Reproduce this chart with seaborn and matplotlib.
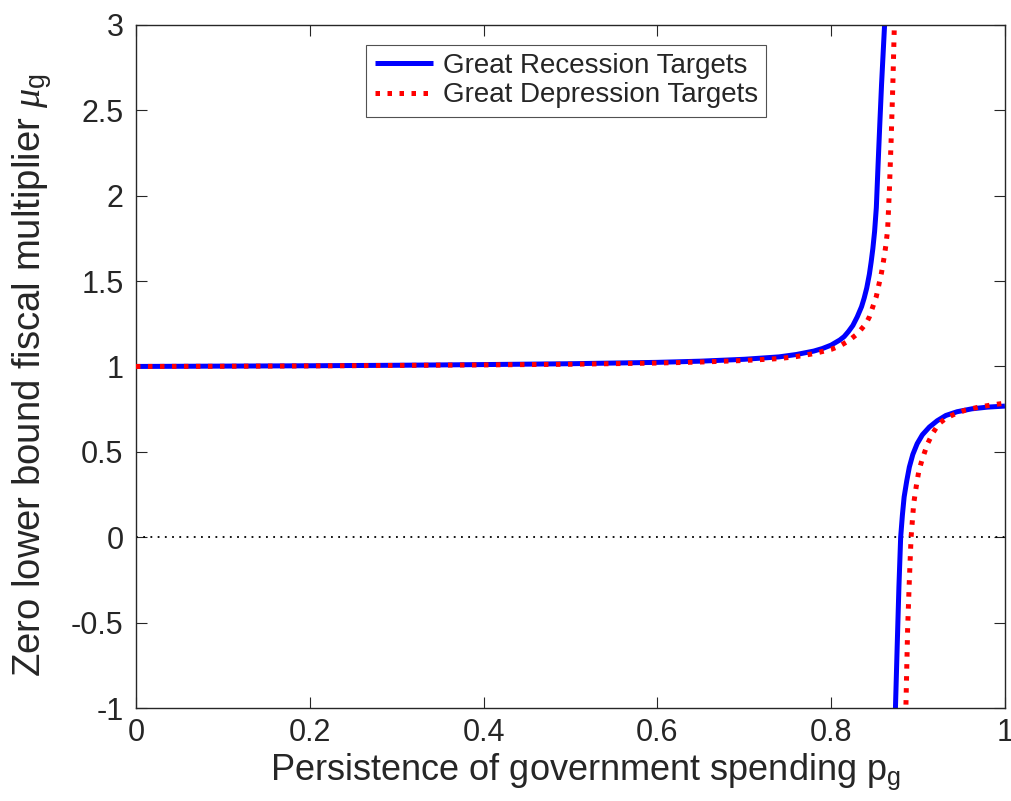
import matplotlib
matplotlib.use("Agg")
import matplotlib.pyplot as plt
import seaborn as sns
import pandas as pd

# Great Recession targets: branch left of the pole, branch right of it
rec_x_left = [0.00, 0.10, 0.20, 0.30, 0.40, 0.50, 0.60, 0.65, 0.70, 0.74, 0.76, 0.78,
              0.79, 0.80, 0.81, 0.815, 0.82, 0.825, 0.83, 0.835, 0.838, 0.841, 0.844,
              0.846, 0.848, 0.850, 0.852, 0.854, 0.856, 0.858, 0.860, 0.862]
rec_y_left = [1.000, 1.002, 1.004, 1.007, 1.011, 1.016, 1.024, 1.031, 1.042, 1.056, 1.070,
              1.090, 1.105, 1.125, 1.155, 1.175, 1.205, 1.24, 1.29, 1.35, 1.40, 1.46, 1.54,
              1.61, 1.69, 1.79, 1.93, 2.18, 2.42, 2.65, 2.85, 3.05]
rec_x_right = [0.8735, 0.874, 0.876, 0.878, 0.880, 0.882, 0.884, 0.887, 0.890, 0.894, 0.899,
               0.905, 0.913, 0.922, 0.932, 0.945, 0.962, 0.980, 1.000]
rec_y_right = [-1.05, -1.0, -0.64, -0.29, 0.0, 0.13, 0.236, 0.33, 0.411, 0.485, 0.548,
               0.60, 0.645, 0.682, 0.713, 0.735, 0.752, 0.762, 0.768]

# Great Depression targets
dep_x_left = [0.00, 0.10, 0.20, 0.30, 0.40, 0.50, 0.60, 0.65, 0.70, 0.74, 0.76, 0.78,
              0.80, 0.81, 0.82, 0.83, 0.835, 0.84, 0.844, 0.848, 0.852, 0.855, 0.858,
              0.861, 0.863, 0.865, 0.867, 0.869, 0.871, 0.873]
dep_y_left = [1.000, 1.001, 1.003, 1.006, 1.009, 1.013, 1.020, 1.026, 1.035, 1.046, 1.058,
              1.075, 1.10, 1.12, 1.15, 1.19, 1.22, 1.25, 1.29, 1.35, 1.41, 1.48, 1.55,
              1.64, 1.71, 1.80, 2.03, 2.32, 2.65, 3.05]
dep_x_right = [0.8855, 0.886, 0.888, 0.890, 0.892, 0.895, 0.898, 0.901, 0.905, 0.911, 0.917,
               0.924, 0.933, 0.943, 0.955, 0.970, 0.985, 1.000]
dep_y_right = [-1.05, -1.0, -0.54, -0.25, 0.0, 0.197, 0.30, 0.39, 0.46, 0.548, 0.61,
               0.665, 0.70, 0.723, 0.745, 0.762, 0.775, 0.785]

x_ticks = [0, 0.2, 0.4, 0.6, 0.8, 1]
x_tick_labels = ["0", "0.2", "0.4", "0.6", "0.8", "1"]
y_ticks = [-1, -0.5, 0, 0.5, 1, 1.5, 2, 2.5, 3]
y_tick_labels = ["-1", "-0.5", "0", "0.5", "1", "1.5", "2", "2.5", "3"]

series_labels = ["Great Recession Targets", "Great Depression Targets"]

sns.set_theme(style="white")
plt.rcParams["font.family"] = ["Liberation Sans", "DejaVu Sans"]
plt.rcParams["mathtext.fontset"] = "custom"
plt.rcParams["mathtext.rm"] = "Liberation Sans"
plt.rcParams["mathtext.it"] = "Liberation Serif:italic"

fig = plt.figure(figsize=(10.11, 8.01), dpi=100)
ax = fig.add_axes([0.1345, 0.116, 0.8595, 0.853])

axis_grey = "#262626"

# zero reference line
ax.axhline(0, color="black", lw=1.3, ls=(0, (1, 3)), zorder=1)

def branch(xs, ys):
    return pd.DataFrame({"x": xs, "y": ys})

rec_kw = dict(color="#0000ff", lw=3.6, solid_capstyle="butt", solid_joinstyle="round")
dep_kw = dict(color="#ff0000", lw=3.6, dashes=(0.9, 1.5), dash_capstyle="butt")

sns.lineplot(data=branch(rec_x_left, rec_y_left), x="x", y="y", sort=False,
             estimator=None, ax=ax, zorder=2, **rec_kw)
sns.lineplot(data=branch(rec_x_right, rec_y_right), x="x", y="y", sort=False,
             estimator=None, ax=ax, zorder=2, **rec_kw)
sns.lineplot(data=branch(dep_x_left, dep_y_left), x="x", y="y", sort=False,
             estimator=None, ax=ax, zorder=3, **dep_kw)
sns.lineplot(data=branch(dep_x_right, dep_y_right), x="x", y="y", sort=False,
             estimator=None, ax=ax, zorder=3, **dep_kw)

lines = ax.get_lines()
handles = [lines[1], lines[3]]
leg = ax.legend(handles, series_labels, loc="upper left", bbox_to_anchor=(0.265, 0.971),
                fontsize=20, frameon=True, fancybox=False, handlelength=2.1,
                handletextpad=0.35, borderpad=0.3, labelspacing=0.12, borderaxespad=0)
leg.get_frame().set_edgecolor(axis_grey)
leg.get_frame().set_linewidth(0.8)

ax.set_xlim(0, 1)
ax.set_ylim(-1, 3)
ax.set_xticks(x_ticks)
ax.set_xticklabels(x_tick_labels)
ax.set_yticks(y_ticks)
ax.set_yticklabels(y_tick_labels)

ax.tick_params(axis="both", which="both", direction="in", length=8, width=0.8,
               color=axis_grey, labelcolor=axis_grey, labelsize=22,
               top=True, right=True, bottom=True, left=True)
ax.tick_params(axis="y", pad=9)
ax.tick_params(axis="x", pad=7)

for s in ax.spines.values():
    s.set_color(axis_grey)
    s.set_linewidth(1.0)
    s.set_visible(True)

ax.set_xlabel(r"Persistence of government spending p$_{\rm g}$", fontsize=26,
              color=axis_grey)
ax.set_ylabel(r"Zero lower bound fiscal multiplier $\mu_{\rm g}$", fontsize=27.5,
              color=axis_grey)
ax.xaxis.set_label_coords(0.517, -0.064)
ax.yaxis.set_label_coords(-0.094, 0.487)

fig.savefig("out.png", dpi=100)
